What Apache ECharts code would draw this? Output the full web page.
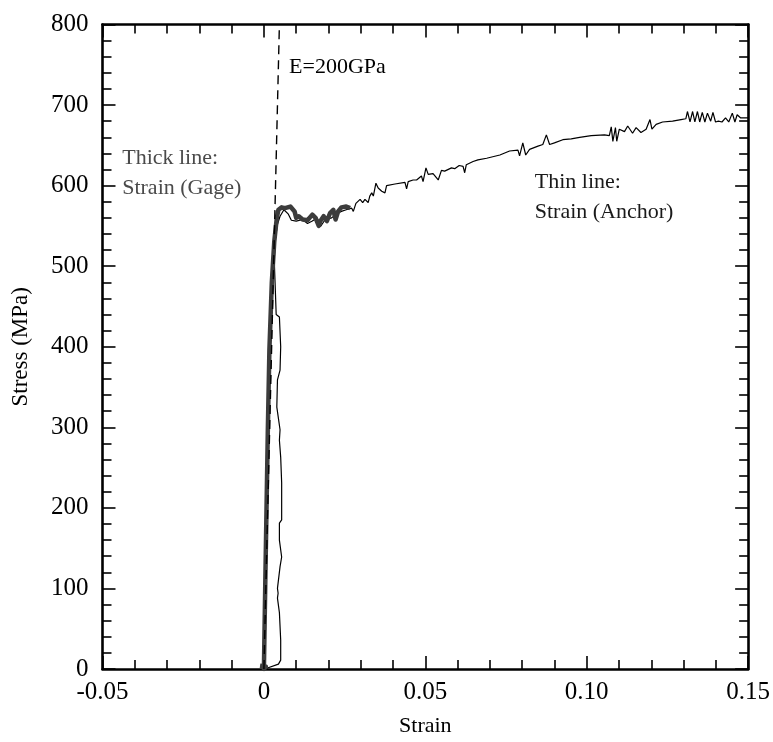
<!DOCTYPE html>
<html>
<head>
<meta charset="utf-8">
<script src="https://cdn.jsdelivr.net/npm/echarts@6/dist/echarts.min.js"></script>
<style>
html,body{margin:0;padding:0;background:#fff;}
#chart{width:773px;height:742px;}
</style>
</head>
<body>
<div id="chart"></div>
<script>
// ---- Data ----
var xTickLabels = {'-0.05':'-0.05','0':'0','0.05':'0.05','0.1':'0.10','0.15':'0.15'};
var yTickLabels = ['0','100','200','300','400','500','600','700','800'];

// Thick line: Strain (Gage) [strain, stress MPa]
var gageStrain = [-0.0012,0.0006,0.0,0.0004,0.0012,0.0017,0.00245,0.0032,0.0040,0.0045,0.0055,0.0065,0.0082,0.0095,0.0100,0.0108,0.0120,0.0135,0.0150,0.0160,0.0170,0.0175,0.0185,0.0195,0.0205,0.0215,0.0222,0.0230,0.0240,0.0255,0.0267];
var gageStress = [4,3,0,100,293,396,480,530,560,570,573,572,574,568,560,562,558,557,564,560,550,556,562,556,566,570,558,568,573,574,572];

// Thin line: Strain (Anchor)
var anchorStrain = [0.0,0.0009,0.0045,0.0052,0.0052,0.0048,0.0042,0.0044,0.0042,0.0050,0.0055,0.0048,0.0048,0.0055,0.0055,0.0052,0.0048,0.0050,0.0040,0.0042,0.0050,0.0052,0.0048,0.0038,0.0035,0.0032,0.0036,0.0042,0.0050,0.0062,0.0075,0.0085,0.0100,0.0120,0.0135,0.0150,0.0165,0.0175,0.0190,0.0210,0.0225,0.0240,0.0255,0.0272,0.0277,0.0285,0.0298,0.0306,0.0313,0.0323,0.0328,0.0334,0.0339,0.0347,0.0354,0.0365,0.0375,0.0380,0.0406,0.0437,0.0442,0.0447,0.0462,0.0473,0.0488,0.0493,0.0502,0.0509,0.0524,0.0540,0.0550,0.0560,0.0581,0.0591,0.0605,0.0617,0.0622,0.0627,0.0648,0.0663,0.0690,0.0731,0.0761,0.0787,0.0792,0.0802,0.0811,0.0823,0.0849,0.0864,0.0875,0.0885,0.0900,0.0926,0.0952,0.0978,0.1014,0.1055,0.1070,0.1076,0.1081,0.1089,0.1093,0.1101,0.1117,0.1127,0.1142,0.1153,0.1168,0.1184,0.1196,0.1202,0.1215,0.1235,0.1266,0.1292,0.1307,0.1312,0.1320,0.1328,0.1335,0.1343,0.1350,0.1358,0.1366,0.1374,0.1384,0.1391,0.1399,0.1408,0.1419,0.1430,0.1440,0.1451,0.1459,0.1466,0.1477,0.1500];
var anchorStress = [0,1,6,11,36,70,88,94,100,127,139,160,181,185,231,263,284,297,325,359,371,400,437,440,475,508,535,552,562,570,565,557,556,558,553,556,560,549,558,560,565,568,570,572,568,578,583,579,583,579,587,591,587,603,597,593,591,600,602,604,596,605,607,607,612,605,622,614,615,607,619,618,622,621,625,624,616,626,630,632,634,638,643,644,637,653,638,645,649,651,663,651,653,657,658,660,662,663,662,673,655,672,655,670,667,674,665,672,666,670,682,670,676,679,680,682,683,692,679,692,679,692,679,691,679,690,680,691,679,680,679,684,679,690,679,688,684,684];

// Dashed elastic line E=200GPa
var elasticStrain = [0.0, 0.0048];
var elasticStress = [0, 800];

// Annotations (data coordinates)
var notes = [
  {text:'E=200GPa', at:[0.0078, 747], color:'#000'},
  {text:'Thick line:\nStrain (Gage)', at:[-0.0439, 615], color:'#4a4a4a'},
  {text:'Thin line:\nStrain (Anchor)', at:[0.0839, 585], color:'#1a1a1a'}
];

function zip(a,b){var r=[];for(var i=0;i<a.length;i++)r.push([a[i],b[i]]);return r;}

var FONT = 'Liberation Serif';
var chart = echarts.init(document.getElementById('chart'), null, {renderer:'canvas'});

function xAxisCfg(pos, show){
  return {
    type:'value', position:pos, min:-0.05, max:0.15, interval:0.05,
    name: show ? 'Strain' : '', nameLocation:'middle', nameGap:46,
    nameTextStyle:{fontFamily:FONT, fontSize:22, color:'#000'},
    axisLine:{show:true, onZero:false, lineStyle:{color:'#000', width:2.6}},
    axisTick:{show:true, inside:true, length:13, lineStyle:{color:'#000', width:1.6}},
    minorTick:{show:true, splitNumber:5, length:9, lineStyle:{color:'#000', width:1.6}},
    axisLabel:{show:show, margin:11, fontFamily:FONT, fontSize:25, color:'#000',
      formatter:function(v){var k=String(Math.round(v*100)/100); return xTickLabels[k]!==undefined?xTickLabels[k]:k;}},
    splitLine:{show:false}, minorSplitLine:{show:false}
  };
}
function yAxisCfg(pos, show){
  return {
    type:'value', position:pos, min:0, max:800, interval:100,
    name: show ? 'Stress (MPa)' : '', nameLocation:'middle', nameGap:70, nameRotate:90,
    nameTextStyle:{fontFamily:FONT, fontSize:23, color:'#000'},
    axisLine:{show:true, onZero:false, lineStyle:{color:'#000', width:2.6}},
    axisTick:{show:true, inside:true, length:13, lineStyle:{color:'#000', width:1.6}},
    minorTick:{show:true, splitNumber:5, length:9, lineStyle:{color:'#000', width:1.6}},
    axisLabel:{show:show, margin:14, fontFamily:FONT, fontSize:25, color:'#000',
      formatter:function(v){return yTickLabels[Math.round(v/100)];}},
    splitLine:{show:false}, minorSplitLine:{show:false}
  };
}

chart.setOption({
  animation:false,
  backgroundColor:'#fff',
  grid:{left:102.5, right:24, top:24.5, bottom:73, containLabel:false},
  xAxis:[xAxisCfg('bottom', true), xAxisCfg('top', false)],
  yAxis:[yAxisCfg('left', true), yAxisCfg('right', false)],
  series:[
    {type:'line', name:'Anchor', data:zip(anchorStrain, anchorStress), showSymbol:false, symbol:'none',
      lineStyle:{color:'#000', width:1.2}, z:2},
    {type:'line', name:'Gage', data:zip(gageStrain, gageStress), showSymbol:false, symbol:'none',
      lineStyle:{color:'#3c3c3c', width:4.5, join:'round'}, z:3},
    {type:'line', name:'Elastic', data:zip(elasticStrain, elasticStress), showSymbol:false, symbol:'none',
      lineStyle:{color:'#000', width:1.4, type:[9,6]}, z:4}
  ]
});

var g = notes.map(function(n){
  var p = chart.convertToPixel({gridIndex:0}, n.at);
  return {type:'text', x:p[0], y:p[1], z:10,
    style:{text:n.text, fill:n.color, font:'22px "Liberation Serif"', lineHeight:30,
      textAlign:'left', textVerticalAlign:'middle'}};
});
chart.setOption({graphic:g});
</script>
</body>
</html>
